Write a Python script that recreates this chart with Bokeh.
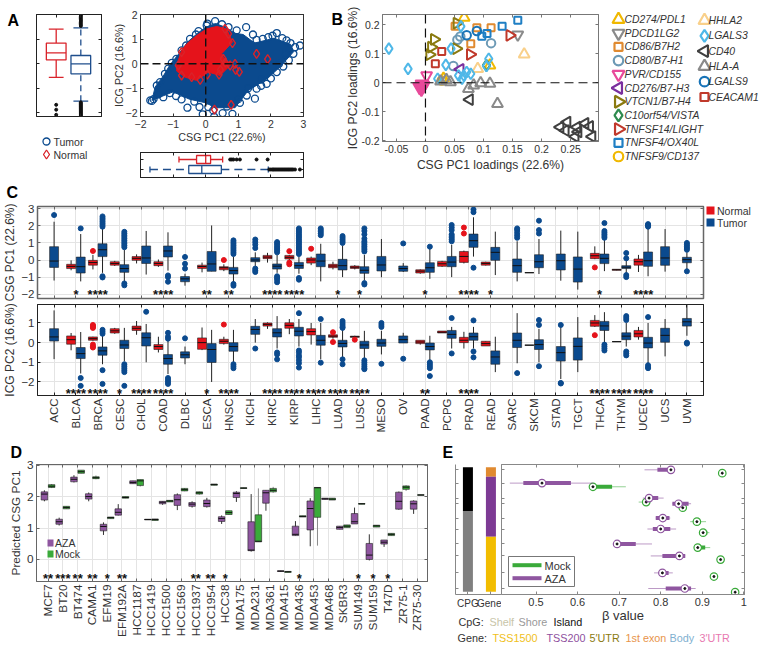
from math import pi
from bokeh.plotting import figure
from bokeh.layouts import row, column
from bokeh.models import (Range1d, LinearAxis, FixedTicker, Span)
from bokeh.core.properties import value
from bokeh.embed import file_html
from bokeh.resources import INLINE

FONT = "Liberation Sans"
TXT = "#333333"
BLUE = "#0b4a8e"
RED = "#e5131b"
PURPLE = "#8f56a0"
GREEN = "#3aaa3a"

# ---------- Panel A ----------
tumor_patch_x = [-1.65,-1.0,-0.5,0.0,0.3,0.9,1.3,1.9,2.3,2.7,2.6,2.1,1.5,1.15,0.9,0.6,0.3,0.0,-0.25,-0.55,-0.8,-1.1,-1.3,-1.55]
tumor_patch_y = [-1.5,-1.15,-1.45,-1.6,-1.8,-1.8,-1.1,-0.6,-0.1,0.5,0.8,1.05,0.85,1.2,1.25,1.5,1.65,1.5,1.25,0.9,0.45,-0.05,-0.5,-0.95]
tumor_x = [-1.7,-1.65,-1.6,-1.5,-1.25,-1.04,-0.74,-0.48,-0.22,0.03,0.29,0.5,0.7,0.95,1.24,1.45,1.56,1.75,1.92,2.05,2.18,2.35,2.48,2.6,2.74,2.89,2.69,2.55,2.38,2.18,2.0,1.87,1.7,1.56,1.51,1.26,1.05,0.82,0.52,0.26,0.08,-0.09,-0.19,-0.35,-0.56,-0.74,-0.91,-1.1,-1.3,-1.45,-0.9,-0.6,-0.3,-1.4,-1.15,0.05,0.23,0.65,1.0,1.3,1.7,2.25,2.45]
tumor_y = [-1.5,-1.52,-1.45,-0.89,-0.41,0.04,0.55,1.02,1.34,1.57,1.75,1.62,1.5,1.37,1.5,1.2,0.98,1.02,1.09,1.15,1.26,1.05,0.96,0.85,0.68,0.75,0.41,0.15,-0.11,-0.34,-0.6,-0.82,-0.9,-1.02,-1.43,-1.3,-1.6,-2.05,-2.02,-2.17,-1.77,-2.07,-1.77,-1.55,-1.8,-1.46,-1.32,-1.2,-1.37,-1.25,0.2,0.75,1.2,-0.75,-0.2,1.65,-1.91,-1.75,-1.45,-1.0,-0.65,0.0,0.4]
normal_patch_x = [-0.89,-0.74,-0.58,-0.28,0.03,0.34,0.64,0.82,0.49,0.59,0.8,0.44,0.08,-0.28,-0.63,-0.89]
normal_patch_y = [-0.07,0.55,0.82,1.16,1.43,1.53,1.43,0.89,0.41,0.14,0.0,-0.48,-0.34,-0.68,-0.55,-0.3]
normal_x = [1.56,1.9,0.78,0.27,1.03,0.92,0.9,0.75,0.41,0.05,0.82,0.7,0.59,-0.74,-0.84,-0.74,-0.43,-0.17,0.54,0.6,0.45]
normal_y = [0.41,0.19,-1.68,-1.88,-0.33,-0.25,0.0,-0.07,-0.44,-0.44,0.85,1.23,1.43,0.48,-0.07,-0.48,-0.55,-0.66,0.2,0.05,-0.25]

a_pc2_normal = (0.16, 0.45, 0.85, -0.56, 1.42)
a_pc2_tumor = (-0.41, 0.0, 0.34, -1.53, 1.47)
a_pc2_normal_out = [-1.68,-1.88,-2.09]
a_pc2_tumor_out = [1.55,1.6,1.65,1.7,1.75,1.8,1.85,1.9,1.95,2.0,-1.58,-1.62,-1.66,-1.7,-1.74,-1.78,-1.82,-1.86,-1.9,-1.94,-1.98,-2.02,-2.06,-2.1,-2.14]
a_pc1_normal = (-0.28, 0.0, 0.15, -0.82, 0.52)
a_pc1_tumor = (-0.52, -0.12, 0.48, -1.71, 1.92)
a_pc1_normal_out = [0.75,0.8,0.85,0.95,1.05,1.56,1.9]
a_pc1_tumor_out = [1.95,2.0,2.05,2.08,2.12,2.16,2.2,2.24,2.28,2.32,2.36,2.4,2.44,2.48,2.52,2.56,2.6,2.64,2.68,2.74,2.89]

# ---------- Panel B ----------
genes_col1 = ["CD274/PDL1","PDCD1LG2","CD86/B7H2","CD80/B7-H1","PVR/CD155","CD276/B7-H3","VTCN1/B7-H4","C10orf54/VISTA","TNFSF14/LIGHT","TNFSF4/OX40L","TNFSF9/CD137"]
genes_col2 = ["HHLA2","LGALS3","CD40","HLA-A","LGALS9","CEACAM1"]
gene_style = {
 "CD274/PDL1":("triangle",0,"#f0b800",11),
 "PDCD1LG2":("inverted_triangle",0,"#8a8a8a",11),
 "CD86/B7H2":("square",0,"#e08a30",7),
 "CD80/B7-H1":("circle",0,"#6d9ab5",8.5),
 "PVR/CD155":("inverted_triangle",0,"#e84a9a",11),
 "CD276/B7-H3":("triangle",pi/2,"#7a2f9e",11),
 "VTCN1/B7-H4":("triangle",-pi/2,"#8a7a10",11),
 "C10orf54/VISTA":("diamond",0,"#2e8b4f",11),
 "TNFSF14/LIGHT":("triangle",-pi/2,"#c0392b",11),
 "TNFSF4/OX40L":("square",0,"#1f7fc4",7),
 "TNFSF9/CD137":("circle",0,"#f0b800",8.5),
 "HHLA2":("triangle",0,"#f9d08a",11),
 "LGALS3":("diamond",0,"#4fb8e8",11),
 "CD40":("triangle",pi/2,"#404040",11),
 "HLA-A":("triangle",0,"#8a8a8a",11),
 "LGALS9":("circle",0,"#1874b8",8.5),
 "CEACAM1":("square",0,"#c0392b",7),
}
gene_x = {
 "CD274/PDL1":[0.0667,0.111,0.031],
 "PDCD1LG2":[0.159],
 "CD86/B7H2":[0.0885,0.113,0.078,0.051],
 "CD80/B7-H1":[0.113,0.048,0.055,0.06],
 "PVR/CD155":[0.002,-0.007,-0.004,-0.01,-0.006],
 "CD276/B7-H3":[0.06],
 "VTCN1/B7-H4":[0.015,0.01,0.007,0.053,0.054],
 "C10orf54/VISTA":[0.105],
 "TNFSF14/LIGHT":[0.145,0.077],
 "TNFSF4/OX40L":[0.132,0.159,0.097,0.106],
 "TNFSF9/CD137":[0.028],
 "HHLA2":[0.17,0.09],
 "LGALS3":[-0.063,-0.03,0.035,0.044,0.061,0.109,0.105,0.021,0.057,0.066,0.071,0.078,0.063],
 "CD40":[0.076,0.232,0.244,0.241,0.261,0.275,0.283,0.287,0.258,0.263],
 "HLA-A":[0.124,0.111,0.095,0.074,0.083,0.026,0.036,0.043],
 "LGALS9":[0.071,0.0885],
 "CEACAM1":[0.028,0.017],
}
gene_y = {
 "CD274/PDL1":[0.225,0.06,0.014],
 "PDCD1LG2":[0.166],
 "CD86/B7H2":[0.19,0.19,0.135,0.195],
 "CD80/B7-H1":[0.137,0.058,0.149,0.16],
 "PVR/CD155":[0.025,-0.021,-0.01,-0.015,-0.005],
 "CD276/B7-H3":[0.046],
 "VTCN1/B7-H4":[0.15,0.123,0.097,0.118,0.206],
 "C10orf54/VISTA":[0.06],
 "TNFSF14/LIGHT":[0.164,0.098],
 "TNFSF4/OX40L":[0.195,0.216,0.161,0.17],
 "TNFSF9/CD137":[0.008],
 "HHLA2":[0.098,0.048],
 "LGALS3":[0.118,0.048,0.062,0.118,0.195,0.083,0.058,0.014,0.025,0.025,0.037,0.031,0.014],
 "CD40":[-0.058,-0.153,-0.136,-0.165,-0.153,-0.14,-0.151,-0.186,-0.186,-0.17],
 "HLA-A":[-0.073,-0.003,-0.001,-0.021,-0.009,0.005,0.01,0.002],
 "LGALS9":[0.164,0.179],
 "CEACAM1":[0.108,0.066],
}

# ---------- Panel C ----------
cancers = ["ACC","BLCA","BRCA","CESC","CHOL","COAD","DLBC","ESCA","HNSC","KICH","KIRC","KIRP","LIHC","LUAD","LUSC","MESO","OV","PAAD","PCPG","PRAD","READ","SARC","SKCM","STAD","TGCT","THCA","THYM","UCEC","UCS","UVM"]
centered = ["ACC","DLBC","MESO","OV","TGCT","UCS","UVM"]
# (q1, median, q3, low whisker, high whisker)
c1_normal = {
 "BLCA":(-0.5,-0.37,-0.25,-0.6,-0.02),"BRCA":(-0.3,-0.15,-0.02,-0.55,0.3),"CESC":(-0.3,-0.2,-0.1,-0.35,-0.05),
 "CHOL":(-0.02,0.1,0.2,-0.2,0.33),"COAD":(-0.33,-0.2,-0.1,-0.4,0.03),"ESCA":(-0.5,-0.38,-0.3,-0.72,-0.15),
 "HNSC":(-0.57,-0.45,-0.39,-0.65,-0.25),"KIRC":(0.08,0.17,0.27,-0.15,0.42),"KIRP":(0.06,0.16,0.27,0.0,0.3),
 "LIHC":(-0.18,0.0,0.12,-0.3,0.2),"LUAD":(-0.45,-0.35,-0.25,-0.55,-0.1),"LUSC":(-0.49,-0.42,-0.35,-0.55,-0.3),
 "PAAD":(-0.76,-0.65,-0.57,-0.8,-0.55),"PCPG":(-0.37,-0.22,-0.08,-0.4,-0.05),"PRAD":(-0.14,0.21,0.5,-0.2,0.55),
 "READ":(-0.3,-0.2,-0.12,-0.32,-0.1),"SKCM":(-0.74,-0.74,-0.74,-0.74,-0.74),"THCA":(0.08,0.25,0.39,0.05,0.8),
 "THYM":(-0.6,-0.57,-0.54,-0.6,-0.54),"UCEC":(-0.3,-0.1,0.06,-0.7,0.3)}
c1_tumor = {
 "ACC":(-0.43,-0.06,0.78,-1.2,2.24),"BLCA":(-0.76,-0.39,0.17,-1.25,1.52),"BRCA":(0.2,0.6,0.95,-0.75,1.85),
 "CESC":(-0.72,-0.5,-0.27,-1.3,0.6),"CHOL":(-0.2,0.12,0.82,-0.85,1.7),"COAD":(0.18,0.53,0.82,-0.62,1.62),
 "DLBC":(-1.27,-1.1,-0.97,-1.5,-0.8),"ESCA":(-0.66,-0.23,0.5,-0.66,2.02),"HNSC":(-0.82,-0.62,-0.43,-1.3,0.2),
 "KICH":(-0.1,0.0,0.14,-0.35,0.45),"KIRC":(-0.53,-0.36,-0.23,-0.75,0.3),"KIRP":(-0.49,-0.33,-0.14,-0.8,0.2),
 "LIHC":(-0.39,-0.06,0.35,-1.25,0.95),"LUAD":(-0.58,-0.33,0.04,-1.0,0.85),"LUSC":(-0.78,-0.6,-0.39,-1.2,0.3),
 "MESO":(-0.64,-0.29,0.21,-1.01,1.23),"OV":(-0.66,-0.5,-0.35,-0.7,-0.18),"PAAD":(-0.72,-0.45,-0.16,-1.1,0.68),
 "PCPG":(-0.39,-0.12,0.21,-1.0,0.9),"PRAD":(0.74,1.13,1.52,0.2,2.5),"READ":(-0.02,0.45,0.74,-0.88,1.66),
 "SARC":(-0.72,-0.33,0.06,-1.25,1.1),"SKCM":(-0.45,-0.1,0.31,-0.82,1.23),"STAD":(-0.58,-0.04,0.35,-1.21,1.72),
 "TGCT":(-1.29,-0.53,0.18,-1.73,1.66),"THCA":(-0.21,0.1,0.35,-0.65,1.2),"THYM":(-0.5,-0.42,-0.33,-0.8,0.0),
 "UCEC":(-0.37,-0.04,0.47,-0.95,1.9),"UCS":(-0.31,0.12,0.78,-0.68,1.81),"UVM":(-0.16,0.02,0.16,-0.55,0.45)}
c1_normal_out = {"BRCA":[0.53],"HNSC":[0.0],"KIRP":[0.52,-0.15,-0.25],"LIHC":[0.66],"PRAD":[1.9,1.55],"THCA":[-0.43]}
c1_tumor_out = {
 "ACC":[2.63],"BLCA":[1.85],"BRCA":[2.55,2.45,2.35,2.25,2.15,2.05,1.95,-0.95,-1.02],
 "CESC":[1.65,1.55,1.45,1.35,1.25,1.15,1.05,0.95,0.85,0.75,-1.37,-1.48],"COAD":[-0.9,-1.0,-1.27],
 "DLBC":[0.18,-0.22,-0.5],"HNSC":[1.15,1.05,0.95,0.85,0.75,0.65,0.55,0.45,0.35,-1.4,-1.5],
 "KICH":[1.2,1.05,0.9,0.7,-0.5,-0.6,-0.7],"KIRC":[1.05,0.95,0.85,0.75,0.65,0.55,0.45,-0.95,-1.05,-1.15,-1.3],
 "KIRP":[1.85,1.75,1.65,1.55,1.45,1.35,1.25,1.15,1.05,0.95,0.85,0.75,0.65,0.55,0.45,0.35,-1.05,-1.15],
 "LIHC":[1.85,1.75,1.65,1.55,1.45],"LUAD":[1.4,1.3,1.2,1.1,1.0],
 "LUSC":[1.85,1.7,1.5,1.25,1.1,1.0,0.9,0.8,0.7,0.6,0.5,-1.35,-1.43],"OV":[0.97],"PAAD":[0.78],
 "PCPG":[2.05,1.9,1.75,1.5,1.4,1.3,1.2,1.1],"PRAD":[2.95,2.8,-0.45],"SARC":[1.85,1.75,1.6,1.45,1.3],
 "SKCM":[2.3,1.75,1.55],"THCA":[2.16,1.7,1.6,1.5,1.4,1.3],"THYM":[0.41,0.1,-0.88,-1.0],
 "UCEC":[2.1,2.05,2.0,1.95],"UVM":[1.0,0.9,0.8,0.7,0.6,-0.66]}

c2_normal = {
 "BLCA":(-0.08,0.15,0.34,-0.39,0.49),"BRCA":(0.12,0.2,0.29,0.1,0.3),"CESC":(0.49,0.6,0.71,0.45,0.75),
 "CHOL":(0.62,0.73,0.84,0.4,1.1),"COAD":(-0.35,-0.2,-0.1,-0.5,0.3),"ESCA":(-0.34,0.0,0.24,-0.38,0.77),
 "HNSC":(-0.05,0.07,0.17,-0.1,0.3),"KIRC":(0.84,0.93,1.0,0.7,1.03),"KIRP":(0.73,0.88,1.01,0.43,1.2),
 "LIHC":(0.39,0.56,0.71,-0.1,1.0),"LUAD":(0.27,0.33,0.4,0.2,0.4),"LUSC":(0.27,0.3,0.33,0.25,0.35),
 "PAAD":(-0.05,0.03,0.12,-0.1,0.1),"PCPG":(0.49,0.53,0.59,0.49,0.59),"PRAD":(0.0,0.12,0.27,-0.3,0.55),
 "READ":(-0.17,-0.05,0.07,-0.17,0.07),"SKCM":(-0.13,-0.13,-0.13,-0.13,-0.13),"THCA":(0.83,1.0,1.13,0.8,1.4),
 "THYM":(0.05,0.05,0.05,0.05,0.05),"UCEC":(0.29,0.45,0.62,0.15,0.8)}
c2_tumor = {
 "ACC":(0.08,0.29,0.71,-0.84,1.64),"BLCA":(-0.81,-0.56,-0.25,-1.57,0.54),"BRCA":(-0.64,-0.42,-0.22,-1.1,0.35),
 "CESC":(-0.3,-0.12,0.12,-0.95,0.75),"CHOL":(-0.17,0.25,0.5,-1.0,0.95),"COAD":(-1.1,-0.81,-0.61,-1.6,0.3),
 "DLBC":(-0.78,-0.62,-0.47,-1.1,-0.2),"ESCA":(-1.01,-0.35,-0.05,-2.0,0.65),"HNSC":(-0.44,-0.2,0.0,-1.0,0.65),
 "KICH":(0.42,0.67,0.83,0.0,1.2),"KIRC":(0.29,0.5,0.71,-0.3,1.35),"KIRP":(0.34,0.58,0.78,-0.2,1.2),
 "LIHC":(-0.13,0.12,0.37,-0.85,1.0),"LUAD":(-0.22,-0.04,0.12,-0.75,0.65),"LUSC":(-0.3,-0.12,0.07,-0.8,0.6),
 "MESO":(-0.19,-0.02,0.17,-0.6,0.6),"OV":(-0.02,0.15,0.34,-0.02,0.5),"PAAD":(-0.37,-0.2,-0.02,-0.9,0.35),
 "PCPG":(0.22,0.42,0.62,-0.3,0.8),"PRAD":(0.12,0.3,0.49,-0.3,0.8),"READ":(-1.1,-0.73,-0.42,-1.5,0.3),
 "SARC":(-0.25,0.12,0.49,-1.05,1.5),"SKCM":(-0.35,-0.1,0.15,-1.0,0.7),"STAD":(-0.94,-0.51,-0.2,-1.85,0.8),
 "TGCT":(-0.89,-0.19,0.24,-1.5,1.3),"THCA":(0.62,0.85,1.08,0.0,1.55),"THYM":(0.15,0.33,0.5,-0.2,1.0),
 "UCEC":(-0.27,-0.02,0.27,-1.1,1.0),"UCS":(0.02,0.37,0.73,-0.7,1.2),"UVM":(0.84,1.06,1.23,0.35,1.92)}
c2_normal_out = {"BRCA":[0.9,0.85,0.8,0.75,-0.1,-0.2,-0.25],"HNSC":[0.92],"LUAD":[0.53,0.03],"LUSC":[0.15],"THCA":[0.38]}
c2_tumor_out = {
 "BLCA":[-1.8,-2.2],"BRCA":[0.65,0.55,0.45,-1.4,-2.1],"CESC":[-1.1,-1.2,-1.3,-1.4,-1.5,-2.2],"CHOL":[1.57],
 "COAD":[0.5,0.3,0.2,-1.8,-1.9,-2.0,-2.1],"DLBC":[0.22],"HNSC":[-1.1,-1.2,-1.3],"KICH":[-0.3],
 "KIRC":[-0.5,-0.6,-0.85],"KIRP":[1.5,-0.4,-0.5,-0.65,-0.75,-0.9,-1.05,-1.27],"LIHC":[1.2,-1.02],
 "LUAD":[1.1,1.0,0.9,0.8,0.75,-0.85,-1.1],"LUSC":[-0.9,-1.0,-1.1,-1.2,-1.3,-1.35],"MESO":[1.0,0.9,0.8,-1.08],
 "OV":[-0.82],"PAAD":[-1.0,-1.1,-1.2,-1.3,-1.7],"PCPG":[1.25,-0.55],"PRAD":[1.13,-0.45,-0.75],"SARC":[-1.55],
 "SKCM":[1.15,0.9,-1.2],"STAD":[0.9,-2.08,-2.05],"THCA":[-0.1,-0.2,-0.3,-0.4],
 "THYM":[1.35,1.25,1.15,-0.45,-0.55,-0.65],"UCEC":[1.3,-1.15,-1.25,-1.3],"UVM":[0.0,-0.05]}
c1_stars = {"BLCA":"*","BRCA":"****","COAD":"****","ESCA":"**","HNSC":"**","KIRC":"****","KIRP":"****","LUAD":"*","LUSC":"*","PAAD":"*","PRAD":"****","READ":"*","THCA":"*","UCEC":"****"}
c2_stars = {"BLCA":"****","BRCA":"****","CESC":"*","CHOL":"****","COAD":"****","ESCA":"*","HNSC":"****","KIRC":"****","KIRP":"****","LIHC":"****","LUAD":"****","LUSC":"****","PAAD":"**","PRAD":"****","THCA":"****","THYM":"****","UCEC":"****"}

# ---------- Panel D ----------
cells = ["MCF7","BT20","BT474","CAMA1","EFM19","EFM192A","HCC1187","HCC1419","HCC1500","HCC1569","HCC1937","HCC1954","HCC38","MDA175","MDA231","MDA361","MDA415","MDA436","MDA453","MDA468","SKBR3","SUM149","SUM159","T47D","ZR75-1","ZR75-30"]
d_aza = {
 "MCF7":(1.89,2.08,2.15,1.85,2.2),"BT20":(1.12,1.2,1.28,1.08,1.33),"BT474":(2.47,2.55,2.62,2.45,2.68),
 "CAMA1":(1.92,2.0,2.09,1.85,2.13),"EFM19":(0.91,1.05,1.12,0.78,1.18),"EFM192A":(1.41,1.5,1.61,1.4,1.76),
 "HCC1187":(2.41,2.45,2.5,2.41,2.5),"HCC1419":(1.26,1.27,1.28,1.26,1.28),"HCC1500":(1.77,1.82,1.85,1.74,1.85),
 "HCC1569":(1.72,1.9,2.06,1.57,2.1),"HCC1937":(1.69,1.76,1.81,1.65,1.85),"HCC1954":(1.68,1.78,1.89,1.65,1.96),
 "HCC38":(1.21,1.3,1.36,1.13,1.4),"MDA175":(1.97,2.1,2.14,1.83,2.17),"MDA231":(0.28,0.3,1.2,0.25,2.08),
 "MDA361":(1.79,2.12,2.2,1.55,2.2),"MDA415":(-0.38,-0.37,-0.36,-0.38,-0.36),"MDA436":(0.76,0.8,1.06,0.76,1.22),
 "MDA453":(0.94,1.62,1.86,0.42,1.95),"MDA468":(1.91,1.93,1.95,1.91,1.95),"SKBR3":(0.96,1.02,1.06,0.96,1.06),
 "SUM149":(1.13,1.2,1.46,1.13,1.65),"SUM159":(0.0,0.14,0.51,-0.03,0.8),"T47D":(0.49,0.55,0.62,0.4,0.62),
 "ZR75-1":(1.6,1.85,2.14,1.58,2.16),"ZR75-30":(1.6,1.77,1.86,1.45,1.88)}
d_mock = {
 "MCF7":(2.29,2.33,2.38,2.27,2.4),"BT20":(1.61,1.65,1.69,1.61,1.69),"BT474":(2.74,2.79,2.84,2.74,2.84),
 "CAMA1":(2.57,2.6,2.63,2.55,2.67),"EFM19":(1.3,1.33,1.35,1.3,1.35),"EFM192A":(1.95,1.97,2.0,1.95,2.0),
 "HCC1187":(2.35,2.5,2.54,2.32,2.54),"HCC1419":(1.24,1.27,1.29,1.24,1.29),"HCC1500":(1.83,1.86,1.88,1.83,1.88),
 "HCC1569":(2.18,2.22,2.26,2.17,2.27),"HCC1937":(2.08,2.12,2.15,2.06,2.16),"HCC1954":(2.36,2.38,2.4,2.36,2.4),
 "HCC38":(1.43,1.49,1.55,1.43,1.55),"MDA175":(2.26,2.27,2.28,2.26,2.28),"MDA231":(0.56,0.58,1.42,0.56,2.26),
 "MDA361":(2.15,2.2,2.26,2.12,2.31),"MDA415":(-0.41,-0.39,-0.38,-0.41,-0.38),"MDA436":(1.35,1.37,1.39,1.35,1.39),
 "MDA453":(1.34,2.28,2.29,0.44,2.29),"MDA468":(1.89,1.92,1.95,1.89,1.95),"SKBR3":(1.02,1.06,1.1,1.02,1.1),
 "SUM149":(1.76,1.77,1.78,1.76,1.78),"SUM159":(1.03,1.07,1.09,1.03,1.09),"T47D":(0.76,0.8,0.83,0.76,0.83),
 "ZR75-1":(2.23,2.3,2.34,2.18,2.36),"ZR75-30":(2.04,2.05,2.06,2.04,2.06)}
d_stars = {"MCF7":"**","BT20":"***","BT474":"**","CAMA1":"**","EFM19":"*","EFM192A":"**","HCC1937":"**","HCC1954":"**","HCC38":"*","MDA436":"*","SUM149":"*","SUM159":"*","T47D":"*"}

# ---------- Panel E ----------
e_ticks = [33,73,118,135,178,211,256,292,343,390]
e_aza_row = [33,73,118,135,178,211,256,292,343,390]
e_aza_lo = [0.761,0.437,0.757,0.828,0.788,0.768,0.695,0.776,0.784,0.77]
e_aza_q1 = [0.792,0.4695,0.772,0.828,0.788,0.781,0.695,0.804,0.796,0.812]
e_aza_med = [0.8245,0.5144,0.772,0.843,0.805,0.80,0.695,0.845,0.804,0.858]
e_aza_q3 = [0.8245,0.584,0.794,0.867,0.821,0.823,0.74,0.859,0.819,0.873]
e_aza_hi = [0.831,0.638,0.807,0.873,0.823,0.837,0.779,0.859,0.829,0.884]
e_mock_row = [43,84,130,147,189,222,267,303,354,401]
e_mock_lo = [0.94,0.637,0.747,0.84,0.871,0.895,0.889,0.938,0.92,0.975]
e_mock_q1 = [0.945,0.637,0.76,0.845,0.887,0.902,0.889,0.94,0.925,0.977]
e_mock_med = [0.948,0.637,0.765,0.853,0.887,0.902,0.889,0.944,0.928,0.979]
e_mock_q3 = [0.95,0.683,0.768,0.858,0.892,0.912,0.907,0.947,0.93,0.98]
e_mock_hi = [0.956,0.716,0.775,0.86,0.909,0.917,0.919,0.952,0.935,0.985]
e_cpg_seg = [(25,157,"#000000"),(157,400,"#808080")]
e_gene_seg = [(25,54,"#e08a30"),(54,234,"#7d3a94"),(234,400,"#f2bd00")]


def make_fig(box, frame, xr, yr, **kw):
    x0, y0, x1, y1 = box
    fx0, fy0, fx1, fy1 = frame
    p = figure(width=x1-x0, height=y1-y0, frame_width=fx1-fx0, frame_height=fy1-fy0,
               x_range=Range1d(*xr), y_range=Range1d(*yr),
               min_border_left=fx0-x0, min_border_right=x1-fx1, min_border_top=fy0-y0,
               min_border_bottom=y1-fy1, toolbar_location=None, output_backend="svg",
               tools="", background_fill_color="white", **kw)
    p.grid.visible = False
    p.xaxis.visible = False
    p.yaxis.visible = False
    return p


def ax_style(ax, ticks, size="11px", overrides=None, color="#444444", labels=True):
    ax.ticker = FixedTicker(ticks=ticks)
    ax.major_tick_in = 3
    ax.major_tick_out = 0
    ax.minor_tick_line_color = None
    ax.axis_line_color = color
    ax.major_tick_line_color = color
    ax.major_label_text_font = FONT
    ax.major_label_text_color = TXT
    ax.major_label_text_font_size = size if labels else "1px"
    ax.major_label_standoff = 3 if labels else 0
    ax.axis_label_text_font = FONT
    ax.axis_label_text_font_style = "normal"
    ax.axis_label_text_color = TXT
    if not labels:
        overrides = {t: "" for t in ticks}
    if overrides:
        ax.major_label_overrides = overrides
    ax.visible = True


def axes(p, xticks, yticks, size="11px", xlab=None, ylab=None, labsize="11.5px",
         xover=None, yover=None, color="#444444", xlabels=True, ylabels=True, xstand=2, ystand=3,
         mirror=True):
    xa = p.below[0]; ya = p.left[0]
    ax_style(xa, xticks, size, xover, color, xlabels)
    ax_style(ya, yticks, size, yover, color, ylabels)
    if xlab:
        xa.axis_label = xlab; xa.axis_label_text_font_size = labsize; xa.axis_label_standoff = xstand
    if ylab:
        ya.axis_label = ylab; ya.axis_label_text_font_size = labsize; ya.axis_label_standoff = ystand
    if mirror:
        ra = LinearAxis(); ax_style(ra, yticks, size, None, color, False); p.add_layout(ra, "right")
        ta = LinearAxis(); ax_style(ta, xticks, size, None, color, False); p.add_layout(ta, "above")
    p.outline_line_color = color


def grid_on(p, xticks, yticks):
    p.xgrid.visible = True; p.ygrid.visible = True
    p.xgrid.ticker = FixedTicker(ticks=xticks); p.ygrid.ticker = FixedTicker(ticks=yticks)
    p.xgrid.grid_line_color = "#e4e4e4"; p.ygrid.grid_line_color = "#e4e4e4"


# Transparent full-page layer for panel letters and legends: its axes are the page's pixels.
overlay = make_fig((0, 0, 759, 652), (0, 0, 759, 652), (0, 759), (652, 0), margin=(-650, 0, 0, 0))
overlay.background_fill_color = None
overlay.border_fill_color = None
overlay.outline_line_color = None


def lab(x, y, text, size="10.5px", color=TXT, style="normal"):
    overlay.text([x], [y], text=[text], text_font=value(FONT), text_font_size=size, text_color=color,
                 text_font_style=style, text_baseline="middle", text_align="left")


for x, y, t in [(7, 20, "A"), (331, 19, "B"), (6, 192, "C"), (10, 452, "D"), (442, 452, "E")]:
    lab(x, y, t, size="16px", color="#000000", style="bold")

# A legend
overlay.scatter([46], [141], marker="circle", size=7, fill_color=None, line_color=BLUE, line_width=1.3)
overlay.scatter([46], [154], marker="diamond", size=9, fill_color=None, line_color="#d9232a", line_width=1.3)
lab(53, 141, "Tumor"); lab(53, 154, "Normal")

# B legend
for i, g in enumerate(genes_col1):
    m, ang, col, sz = gene_style[g]
    y = 19 + 13.7*i
    overlay.scatter([618], [y], marker=m, size=sz+1, angle=ang, fill_color=None, line_color=col, line_width=2.2)
    lab(624, y, g, size="10.4px", style="italic")
for i, g in enumerate(genes_col2):
    m, ang, col, sz = gene_style[g]
    y = 20 + 15.3*i
    overlay.scatter([704], [y], marker=m, size=sz+1, angle=ang, fill_color=None, line_color=col, line_width=2.2)
    lab(708, y, g, size="10.4px", style="italic")

# C legend
overlay.quad(left=[706, 706], right=[714, 714], top=[206, 218], bottom=[214, 226], fill_color=[RED, BLUE], line_color=None)
lab(716.5, 210.5, "Normal"); lab(716.5, 222.5, "Tumor")

# D legend
overlay.quad(left=[47, 47], right=[53, 53], top=[539, 550], bottom=[546, 557], fill_color=[PURPLE, GREEN], line_color=None)
lab(54.5, 542.5, "AZA"); lab(54.5, 553.5, "Mock")

# E texts
for x, t, c in [(458, "CpG:", TXT), (489, "Shelf", "#c8c5a8"), (518, "Shore", "#999999"), (553, "Island", "#111111")]:
    lab(x, 621, t, color=c, size="10.8px")
for x, t, c in [(457, "Gene:", TXT), (492, "TSS1500", "#f0c020"), (546, "TSS200", "#8e4f9e"), (589, "5′UTR", "#8a7a10"),
                (625, "1st exon", "#e8944a"), (669, "Body", "#7fb0d0"), (699, "3′UTR", "#e878b0")]:
    lab(x, 637, t, color=c, size="10.8px")

# E legend
overlay.quad(left=[508], right=[574], top=[556], bottom=[586], fill_color="white", line_color="#777777", line_width=1)
overlay.segment([512, 512], [564.7, 577.7], [541, 541], [564.7, 577.7], line_color=[GREEN, PURPLE], line_width=4)
lab(544, 565, "Mock", size="11px"); lab(544, 578, "AZA", size="11px")


# ---- A1: vertical boxplot
a1 = make_fig((0, 0, 102, 186), (36, 14, 101, 116), (0.2, 2.84), (-2.16, 2.02))
axes(a1, [1, 2], [-2, -1, 0, 1, 2], xlabels=False, ylabels=False, color="#222222")
def vbox(p, x, st, color, dash, out, outcolor):
    q1, med, q3, lo, hi = st
    p.segment([x, x], [lo, q3], [x, x], [q1, hi], line_color=color, line_width=1.3, line_dash=dash)
    p.segment([x-0.3, x-0.3], [lo, hi], [x+0.3, x+0.3], [lo, hi], line_color=color, line_width=1.3)
    p.quad(left=[x-0.4], right=[x+0.4], bottom=[q1], top=[q3], fill_color="white", line_color=color, line_width=1.3)
    p.segment([x-0.4], [med], [x+0.4], [med], line_color=color, line_width=1.3)
    p.scatter([x]*len(out), out, size=3, color=outcolor)
vbox(a1, 1, a_pc2_normal, "#d9232a", "solid", a_pc2_normal_out, "#111111")
vbox(a1, 2, a_pc2_tumor, "#1f4e8c", "6 4", a_pc2_tumor_out, "#111111")

# ---- A2: scatter
a2 = make_fig((102, 0, 340, 148), (140, 14, 303, 116), (-2, 3), (-2.16, 2.02))
axes(a2, [-2, -1, 0, 1, 2, 3], [-2, -1, 0, 1, 2], size="10.5px", xlab="CSG PC1 (22.6%)", ylab="ICG PC2 (16.6%)",
     labsize="10.7px", color="#333333", xstand=0, ystand=-2)
a2.patch(tumor_patch_x, tumor_patch_y, fill_color=BLUE, line_color=BLUE)
a2.scatter(tumor_x, tumor_y, marker="circle", size=7, fill_color=None, line_color=BLUE, line_width=1.3)
a2.patch(normal_patch_x, normal_patch_y, fill_color=RED, line_color=RED)
a2.scatter(normal_x, normal_y, marker="diamond", size=9, fill_color=None, line_color="#d9232a", line_width=1.4)
a2.add_layout(Span(location=0, dimension="width", line_color="#111111", line_width=1.4, line_dash="8 4"))
a2.add_layout(Span(location=0, dimension="height", line_color="#111111", line_width=1.4, line_dash="8 4"))

# ---- A3: horizontal boxplot
a3 = make_fig((102, 148, 340, 186), (140, 152, 303, 177), (-2, 3), (0.2, 2.7))
axes(a3, [-2, -1, 0, 1, 2, 3], [1, 2], xlabels=False, ylabels=False, color="#222222")
def hbox(p, y, st, color, dash, out):
    q1, med, q3, lo, hi = st
    p.segment([lo, q3], [y, y], [q1, hi], [y, y], line_color=color, line_width=1.3, line_dash=dash)
    p.segment([lo, hi], [y-0.3, y-0.3], [lo, hi], [y+0.3, y+0.3], line_color=color, line_width=1.3)
    p.quad(left=[q1], right=[q3], bottom=[y-0.4], top=[y+0.4], fill_color="white", line_color=color, line_width=1.3)
    p.segment([med], [y-0.4], [med], [y+0.4], line_color=color, line_width=1.3)
    p.scatter(out, [y]*len(out), size=3, color="#111111")
hbox(a3, 2, a_pc1_normal, "#d9232a", "solid", a_pc1_normal_out)
hbox(a3, 1, a_pc1_tumor, "#1f4e8c", "8 5", a_pc1_tumor_out)

# ---- B: scatter
bf = make_fig((340, 0, 600, 186), (382, 14, 598, 141), (-0.074, 0.298), (-0.203, 0.236))
axes(bf, [-0.05, 0, 0.05, 0.1, 0.15, 0.2, 0.25], [-0.2, -0.1, 0, 0.1, 0.2], size="10.5px",
     xlab="CSG PC1 loadings (22.6%)", ylab="ICG PC2 loadings (16.6%)", labsize="12.1px", color="#777777",
     ystand=-2,
     xover={-0.05: "-0.05", 0: "0", 0.05: "0.05", 0.1: "0.1", 0.15: "0.15", 0.2: "0.2", 0.25: "0.25"},
     yover={-0.2: "-0.2", -0.1: "-0.1", 0: "0", 0.1: "0.1", 0.2: "0.2"})
for g in genes_col1 + genes_col2:
    m, ang, col, sz = gene_style[g]
    if g == "PVR/CD155":
        bf.scatter(gene_x[g][1:], gene_y[g][1:], marker=m, size=sz+2, fill_color=col, line_color=col, line_width=2)
        bf.scatter(gene_x[g][:1], gene_y[g][:1], marker=m, size=sz, fill_color=None, line_color=col, line_width=2)
    else:
        bf.scatter(gene_x[g], gene_y[g], marker=m, size=sz, angle=ang, fill_color=None, line_color=col, line_width=2)
bf.add_layout(Span(location=0, dimension="width", line_color="#111111", line_width=1.2, line_dash="9 5"))
bf.add_layout(Span(location=0, dimension="height", line_color="#111111", line_width=1.2, line_dash="9 5"))


# ---- C: boxes
def boxes(p, names, stats, offs, color, width, whisk="#222222", outl="#222222"):
    xs, q1, med, q3, lo, hi = [], [], [], [], [], []
    for n in stats:
        a, b, c, d, e = stats[n]
        xs.append(names.index(n) + offs(n)); q1.append(a); med.append(b); q3.append(c); lo.append(d); hi.append(e)
    w = width
    p.segment(xs, lo, xs, hi, line_color=whisk, line_width=1.0)
    r = p.vbar(x=xs, width=w, bottom=q1, top=q3, fill_color=color, line_color=outl, line_width=0.6)
    p.segment([x-w/2 for x in xs], med, [x+w/2 for x in xs], med, line_color="#111111", line_width=1.0)
    return r


def outliers(p, names, out, offs, color, size=5):
    xs, ys = [], []
    for n in out:
        for v in out[n]:
            xs.append(names.index(n) + offs(n)); ys.append(v)
    p.scatter(xs, ys, marker="circle", size=size, color=color)


def stars(p, names, st, y, yoff=4):
    xs = [names.index(n) for n in st]
    p.text(xs, [y]*len(xs), text=[st[n] for n in st], text_font=value(FONT), text_font_size="13px",
           text_font_style="bold", text_color="#111111", text_align="center", text_baseline="middle", y_offset=yoff)


n_off = lambda n: -0.22
t_off = lambda n: 0.0 if n in centered else 0.22
xidx = list(range(len(cancers)))
cat_over = {i: c for i, c in enumerate(cancers)}

c1 = make_fig((0, 186, 759, 302), (35, 206, 701, 298), (-0.76, 29.76), (-2.25, 3.13))
grid_on(c1, xidx, [-2, -1, 0, 1, 2, 3])
axes(c1, xidx, [-2, -1, 0, 1, 2, 3], size="11.5px", ylab="CSG PC1 (22.6%)", labsize="12px", xlabels=False, color="#666666", ystand=1)
c1.outline_line_width = 1.5
boxes(c1, cancers, c1_normal, n_off, RED, 0.41)
boxes(c1, cancers, c1_tumor, t_off, BLUE, 0.41)
outliers(c1, cancers, c1_normal_out, n_off, RED)
outliers(c1, cancers, c1_tumor_out, t_off, BLUE)
stars(c1, cancers, c1_stars, -1.79)

c2 = make_fig((0, 302, 759, 440), (35, 306, 701, 397), (-0.76, 29.76), (-2.69, 1.94), margin=(-2, 0, 0, 0))
grid_on(c2, xidx, [-2, -1, 0, 1])
axes(c2, xidx, [-2, -1, 0, 1], size="11.5px", ylab="ICG PC2 (16.6%)", labsize="12px", xover=cat_over, color="#222222", ystand=1)
c2.below[0].major_label_orientation = pi/2
boxes(c2, cancers, c2_normal, n_off, RED, 0.41)
boxes(c2, cancers, c2_tumor, t_off, BLUE, 0.41)
outliers(c2, cancers, c2_normal_out, n_off, RED)
outliers(c2, cancers, c2_tumor_out, t_off, BLUE)
stars(c2, cancers, c2_stars, -2.41)

# ---- D
dxs = list(range(len(cells)))
df = make_fig((0, 440, 440, 652), (36, 464, 427, 581), (-0.785, 25.69), (-0.70, 3.02))
grid_on(df, dxs, [0, 1, 2, 3])
axes(df, dxs, [0, 1, 2, 3], size="11.8px", ylab="Predicted CSG PC1", labsize="11.8px", ystand=1,
     xover={i: c for i, c in enumerate(cells)}, color="#666666")
df.below[0].major_label_orientation = pi/2
boxes(df, cells, d_aza, lambda n: -0.25, PURPLE, 0.44, whisk="#333333")
boxes(df, cells, d_mock, lambda n: 0.24, GREEN, 0.44, whisk="#8a8a8a")
stars(df, cells, d_stars, -0.48)

# ---- E left
el = make_fig((440, 440, 501, 652), (455, 466, 501, 596), (0.46, 2.46), (408, 17))
axes(el, [1, 2], e_ticks, size="10px", xover={1: "CPG", 2: "Gene"}, ylabels=False, color="#888888", mirror=False)
el.outline_line_color = None
for pos, segs in ((1, e_cpg_seg), (2, e_gene_seg)):
    el.vbar(x=[pos]*len(segs), width=0.435, bottom=[s[0] for s in segs], top=[s[1] for s in segs],
            fill_color=[s[2] for s in segs], line_color=None)

# ---- E main
em = make_fig((501, 440, 759, 652), (501, 466, 744, 596), (0.417, 1.0015), (408, 17))
axes(em, [0.5, 0.6, 0.7, 0.8, 0.9, 1], e_ticks, size="11px", xlab="β value", labsize="13px", ylabels=False, xstand=-1,
     xover={0.5: "0.5", 0.6: "0.6", 0.7: "0.7", 0.8: "0.8", 0.9: "0.9", 1: "1"}, color="#888888")
em.segment(e_mock_lo, e_mock_row, e_mock_hi, e_mock_row, line_color=GREEN, line_width=1, line_alpha=0.55)
em.segment(e_mock_q1, e_mock_row, e_mock_q3, e_mock_row, line_color=GREEN, line_width=4)
em.scatter(e_mock_med, e_mock_row, marker="circle", size=7.5, fill_color="white", line_color=GREEN, line_width=1.2)
em.scatter(e_mock_med, e_mock_row, marker="circle", size=2, color="#111111")
em.segment(e_aza_lo, e_aza_row, e_aza_hi, e_aza_row, line_color=PURPLE, line_width=1, line_alpha=0.6)
em.segment(e_aza_q1, e_aza_row, e_aza_q3, e_aza_row, line_color=PURPLE, line_width=4)
em.scatter(e_aza_med, e_aza_row, marker="circle", size=7.5, fill_color="white", line_color=PURPLE, line_width=1.2)
em.scatter(e_aza_med, e_aza_row, marker="circle", size=2, color="#111111")

main = column(
    row(a1, column(a2, a3, spacing=0), bf, spacing=0),
    c1, c2,
    row(df, el, em, spacing=0),
    spacing=0)
root = column(main, overlay, spacing=0)
open("out.html", "w").write(file_html(root, INLINE))
